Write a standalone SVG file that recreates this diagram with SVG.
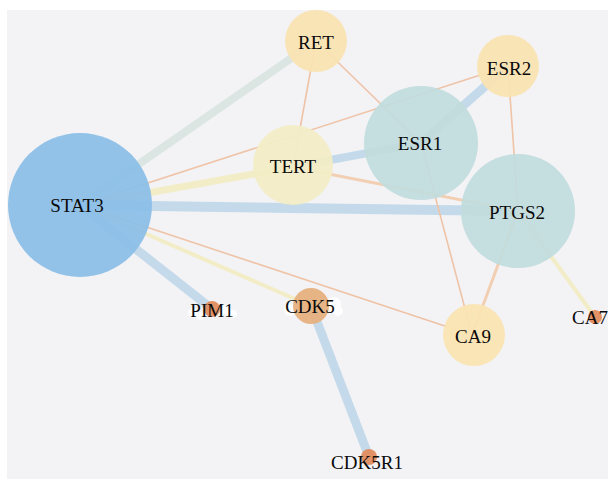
<svg xmlns="http://www.w3.org/2000/svg" width="608" height="481" viewBox="0 0 608 481">
<style>
  .lbl { font-family: "Liberation Serif", "Times New Roman", serif; font-size: 19px; fill: #0a0a0a; text-anchor: middle; }
  .node { fill-opacity: 0.95; }
  .blob { fill: #ffffff; fill-opacity: 0.9; }
  .e { fill: none; stroke-linecap: butt; }
  .thin { stroke: #efc3a6; stroke-width: 1.6; }
  .mid { stroke: #f2cfb3; stroke-width: 3; }
  .blue { stroke: #c4daeb; }
  .yel { stroke: #f2edc6; }
  .gray { stroke: #dbe6e2; }
</style>
<rect x="0" y="0" width="608" height="481" fill="#ffffff"/>
<rect x="7" y="10" width="601" height="469" fill="#f3f3f6"/>
<g id="edges">
  <line class="e gray" x1="80" y1="205" x2="316" y2="41" stroke-width="8"/>
  <line class="e thin" x1="80" y1="205" x2="508" y2="66" stroke-width="2.4"/>
  <line class="e yel" x1="80" y1="205" x2="293" y2="167" stroke-width="7"/>
  <line class="e blue" x1="80" y1="205" x2="518" y2="211" stroke-width="10"/>
  <line class="e thin" x1="80" y1="205" x2="472" y2="335" stroke-width="2.6"/>
  <line class="e yel" x1="80" y1="205" x2="311" y2="306" stroke-width="4"/>
  <line class="e blue" x1="80" y1="205" x2="212" y2="309" stroke-width="9" stroke="#c7dae6"/>
  <line class="e thin" x1="316" y1="41" x2="293" y2="167"/>
  <line class="e thin" x1="316" y1="41" x2="421" y2="143"/>
  <line class="e blue" x1="293" y1="167" x2="421" y2="143" stroke-width="8"/>
  <line class="e blue" x1="508" y1="66" x2="421" y2="143" stroke-width="9"/>
  <line class="e thin" x1="508" y1="66" x2="518" y2="211"/>
  <line class="e mid" x1="293" y1="167" x2="518" y2="211"/>
  <line class="e thin" x1="421" y1="143" x2="472" y2="335"/>
  <line class="e mid" x1="518" y1="211" x2="472" y2="335" stroke-width="3.5" stroke="#f5dcc2"/>
  <line class="e yel" x1="518" y1="211" x2="595" y2="317" stroke-width="4"/>
  <line class="e blue" x1="311" y1="306" x2="369" y2="457" stroke-width="9"/>
</g>
<g id="STAT3">
  <circle class="node" cx="80" cy="205" r="72" fill="#8cbfe7"/>
  <text class="lbl" x="77" y="212">STAT3</text>
</g>
<g id="RET">
  <circle class="node" cx="316" cy="41" r="31" fill="#f9e3b2"/>
  <text class="lbl" x="316" y="49">RET</text>
</g>
<g id="ESR2">
  <circle class="node" cx="508" cy="66" r="31" fill="#f9e3b2"/>
  <text class="lbl" x="509" y="75">ESR2</text>
</g>
<g id="TERT">
  <circle class="node" cx="293" cy="165" r="40" fill="#f2edc6"/>
  <text class="lbl" x="293" y="173">TERT</text>
</g>
<g id="ESR1">
  <circle class="node" cx="421" cy="143" r="57" fill="#c2dcdd"/>
  <text class="lbl" x="420" y="150">ESR1</text>
</g>
<g id="PTGS2">
  <circle class="node" cx="518" cy="211" r="57" fill="#c2dcdd"/>
  <text class="lbl" x="517" y="219">PTGS2</text>
</g>
<g id="CA9">
  <circle class="node" cx="474" cy="335" r="31" fill="#fae4b3"/>
  <text class="lbl" x="473" y="343">CA9</text>
</g>
<g id="CDK5">
  <circle class="blob" cx="290" cy="310" r="6"/>
  <circle class="blob" cx="334" cy="304" r="7"/>
  <circle class="blob" cx="338" cy="311" r="5"/>
  <circle class="node" cx="311" cy="306" r="18" fill="#e6b07e"/>
  <text class="lbl" x="310" y="313">CDK5</text>
</g>
<g id="PIM1">
  <circle class="blob" cx="193" cy="313" r="5"/>
  <circle class="blob" cx="200" cy="316" r="4"/>
  <circle class="blob" cx="226" cy="310" r="5"/>
  <circle class="blob" cx="233" cy="314" r="4"/>
  <circle class="node" cx="212" cy="309" r="8" fill="#e08c5e"/>
  <text class="lbl" x="212" y="317">PIM1</text>
</g>
<g id="CA7">
  <circle class="node" cx="595" cy="317" r="7" fill="#e08c5e"/>
  <text class="lbl" x="590" y="324">CA7</text>
</g>
<g id="CDK5R1">
  <circle class="node" cx="369" cy="457" r="8" fill="#e08c5e"/>
  <text class="lbl" x="367" y="469">CDK5R1</text>
</g>
</svg>
